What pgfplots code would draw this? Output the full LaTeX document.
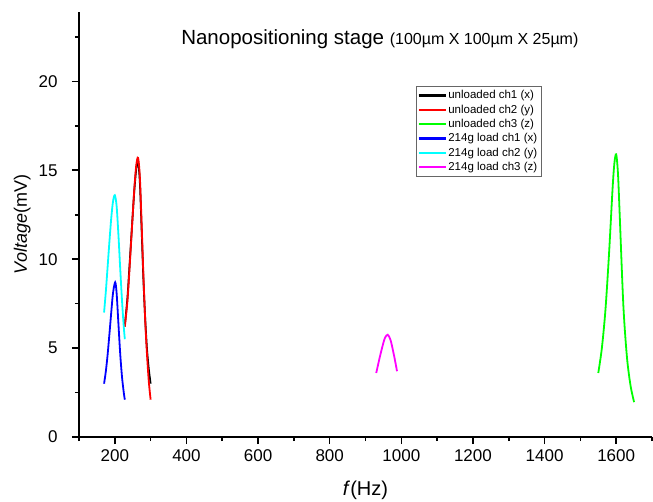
\documentclass[border=0pt]{standalone}
\usepackage{pgfplots}
\pgfplotsset{compat=1.18}
\usepackage{fontspec}
\setmainfont{Liberation Sans}
\definecolor{cyanline}{RGB}{0,255,255}
\definecolor{magline}{RGB}{255,0,255}
\definecolor{greenline}{RGB}{0,255,0}

\begin{document}
\begin{tikzpicture}
\useasboundingbox (-79pt,-64pt) rectangle (574pt,437pt);
\begin{axis}[
    scale only axis, width=573pt, height=425pt,
    xmin=100, xmax=1700, ymin=0, ymax=23.9,
    axis x line*=bottom, axis y line*=left,
    axis line style={-, line width=1.6pt},
    xtick={200,400,...,1600}, ytick={0,5,...,20},
    minor xtick={100,300,...,1700}, minor ytick={2.5,7.5,...,22.5},
    tick align=outside, tick style={black, line width=1.6pt},
    major tick length=7pt, minor tick length=4pt,
    /pgf/number format/assume math mode=true,
    /pgf/number format/1000 sep={},
    tick label style={font=\fontsize{17}{20}\selectfont},
    xticklabel style={yshift=-2pt}, yticklabel style={xshift=-11pt},
    xlabel={\fontsize{20}{24}\selectfont\textit{f}(Hz)},
    ylabel={\fontsize{18}{22}\selectfont\textit{Voltage}(mV)},
    xlabel style={yshift=-13pt},
    ylabel style={yshift=1pt},
    legend style={at={(axis cs:1040,19.72)}, anchor=north west,
        draw=gray!80!black, line width=0.6pt, font=\fontsize{11.5}{13}\selectfont,
        inner xsep=2pt, inner ysep=2pt, row sep=0.5pt},
    legend cell align=left,
    legend image code/.code={
        \draw[#1, line width=1.4pt] (0pt,-0.45pt) -- (27pt,-0.45pt);
        \draw[#1, line width=1.4pt] (0pt,0.45pt) -- (27pt,0.45pt);},
    every axis plot/.append style={line width=1.8pt, smooth, no marks},
]
% unloaded ch1 (x)
\addplot[black] coordinates {
 (228,6.3) (235,7.75) (240,9.3) (245,10.9) (250,12.5) (255,14.0) (260,15.1) (265,15.5)
 (270,14.3) (275,11.6) (280,8.8) (285,6.6) (290,4.9) (295,3.8) (300,3.0)};
% unloaded ch2 (y)
\addplot[red] coordinates {
 (228,6.2) (235,7.6) (240,9.1) (245,10.8) (250,12.5) (255,14.1) (260,15.3) (265,15.7)
 (270,14.6) (275,11.9) (280,9.0) (285,6.5) (290,4.6) (295,3.1) (300,2.1)};
% unloaded ch3 (z)
\addplot[greenline] coordinates {
 (1550,3.6) (1560,5.0) (1570,7.15) (1580,10.3) (1590,14.0) (1595,15.4) (1600,15.9)
 (1605,14.8) (1610,12.4) (1620,7.4) (1630,4.5) (1640,2.9) (1650,1.96)};
% 214g load ch1 (x)
\addplot[blue] coordinates {
 (170,3.0) (175,3.7) (180,4.65) (185,5.8) (190,7.0) (195,8.1) (201,8.7)
 (205,8.1) (210,6.4) (215,4.7) (220,3.4) (225,2.5) (228,2.1)};
% 214g load ch2 (y)
\addplot[cyanline] coordinates {
 (170,7.0) (175,8.2) (180,9.6) (185,11.0) (190,12.3) (195,13.25) (200,13.6)
 (205,13.0) (210,11.4) (215,9.5) (220,7.7) (225,6.2) (228,5.5)};
% 214g load ch3 (z)
\addplot[magline] coordinates {
 (930,3.6) (940,4.5) (950,5.3) (955,5.6) (962,5.75) (970,5.45) (980,4.55) (988,3.7)};
\legend{unloaded ch1 (x), unloaded ch2 (y), unloaded ch3 (z),
        214g load ch1 (x), 214g load ch2 (y), 214g load ch3 (z)}
\node[anchor=base west, inner sep=0pt] at (axis cs:385,22.1)
  {\fontsize{20.5}{24}\selectfont Nanopositioning stage \fontsize{16}{20}\selectfont(100µm X 100µm X 25µm)};
\end{axis}
\end{tikzpicture}
\end{document}
